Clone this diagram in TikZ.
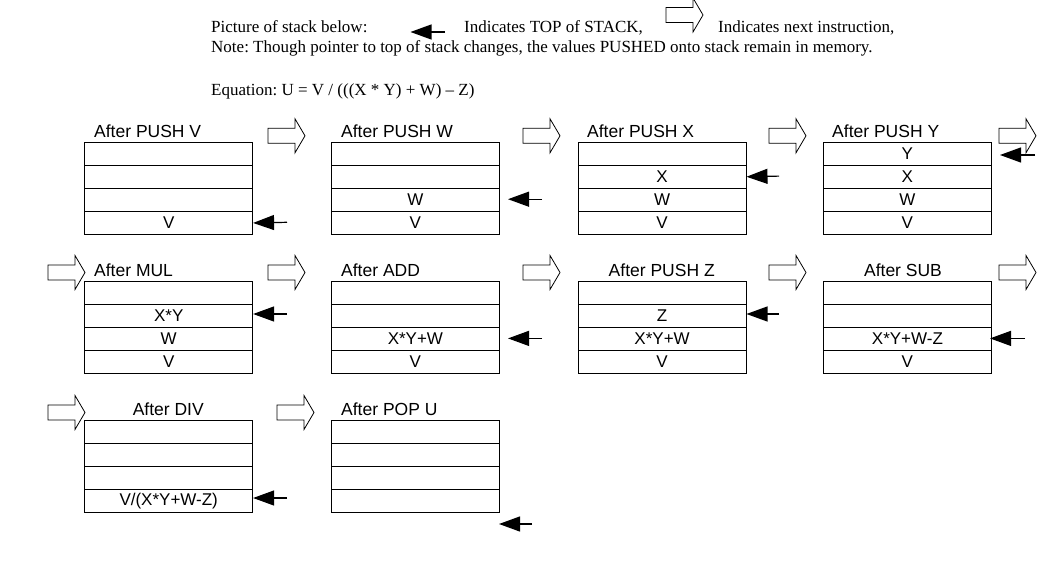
\documentclass[tikz,border=0pt]{standalone}
\usepackage{fontspec}
\setmainfont{Liberation Serif}
\newfontfamily\arialfont{Liberation Sans}
\usetikzlibrary{arrows.meta}
\frenchspacing
\newcommand\mystack[7]{%
  \node[cell] (#1-1) at (#2,#3) {#4};
  \node[cell] (#1-2) at (#2,#3+23.1) {#5};
  \node[cell] (#1-3) at (#2,#3+46.2) {#6};
  \node[cell] (#1-4) at (#2,#3+69.3) {#7};}
\begin{document}
\begin{tikzpicture}[x=1pt,y=-1pt,
  cell/.style={draw,line width=0.8pt,minimum width=168pt,minimum height=23.1pt,inner sep=0pt,anchor=north west,font=\arialfont\fontsize{17}{19}\selectfont},
  ttl/.style={inner sep=0pt,anchor=base west,font=\arialfont\fontsize{17.5}{19}\selectfont},
  hdr/.style={inner sep=0pt,anchor=base west,font=\fontsize{17}{20}\selectfont},
  toparrow/.style={line width=1.2pt,-{Triangle[length=21pt,width=15pt]}},
  blockarrow/.pic={\draw[line width=0.8pt,fill=white] (0,-7.5) -- (27,-7.5) -- (27,-17) -- (37,0) -- (27,17) -- (27,7.5) -- (0,7.5) -- cycle;}]
\useasboundingbox (0,0) rectangle (1048,564);
% header
\node[hdr] (p1) at (211,33) {Picture of stack below:};
\coordinate (lgA) at (445,32);
\coordinate (lgB) at (410.5,32);
\draw[toparrow] (lgA) -- (lgB);
\node[hdr] (p2) at (464,33) {Indicates TOP of STACK,};
\pic (lgblk) at (666,15) {blockarrow};
\node[hdr] (p3) at (718,33) {Indicates next instruction,};
\node[hdr] (p4) at (211,52.5) {Note: Though pointer to top of stack changes, the values PUSHED onto stack remain in memory.};
\node[hdr] (p5) at (211,96) {Equation: U = V / (((X * Y) + W) -- Z)};
% row 1
\mystack{s11}{84.3}{141.7}{}{}{}{V}
\mystack{s12}{331}{141.7}{}{}{W}{V}
\mystack{s13}{577.7}{141.7}{}{X}{W}{V}
\mystack{s14}{823}{141.7}{Y}{X}{W}{V}
\node[ttl] (h11) at (94,137.5) {After PUSH V};
\node[ttl] (h12) at (341,137.5) {After PUSH W};
\node[ttl] (h13) at (587,137.5) {After PUSH X};
\node[ttl] (h14) at (832,137.5) {After PUSH Y};
\pic (b11) at (268,135.8) {blockarrow};
\pic (b12) at (523,135.8) {blockarrow};
\pic (b13) at (769,135.8) {blockarrow};
\pic (b14) at (999,135.8) {blockarrow};
% row 2
\mystack{s21}{84.3}{280.7}{}{X*Y}{W}{V}
\mystack{s22}{331}{280.7}{}{}{X*Y+W}{V}
\mystack{s23}{577.7}{280.7}{}{Z}{X*Y+W}{V}
\mystack{s24}{823}{280.7}{}{}{X*Y+W-Z}{V}
\node[ttl] (h21) at (94,276.7) {After MUL};
\node[ttl] (h22) at (341,276.7) {After ADD};
\node[ttl,anchor=base] (h23) at (661.7,276.7) {After PUSH Z};
\node[ttl,anchor=base] (h24) at (903,276.7) {After SUB};
\pic (b20) at (48,272.5) {blockarrow};
\pic (b21) at (268,272.5) {blockarrow};
\pic (b22) at (523,272.5) {blockarrow};
\pic (b23) at (769,272.5) {blockarrow};
\pic (b24) at (999,272.5) {blockarrow};
% row 3
\mystack{s31}{84.3}{419.7}{}{}{}{V/(X*Y+W-Z)}
\mystack{s32}{331}{419.7}{}{}{}{}
\node[ttl,anchor=base] (h31) at (168.3,415.7) {After DIV};
\node[ttl] (h32) at (341,415.7) {After POP U};
\pic (b30) at (48,412.5) {blockarrow};
\pic (b31) at (277,412.5) {blockarrow};
% top of stack pointers
\coordinate (t11) at (287,222.3);
\draw[toparrow] (t11) -- (s11-4.east);
\coordinate (t12a) at (542,199.2);
\coordinate (t12b) at (508,199.2);
\draw[toparrow] (t12a) -- (t12b);
\coordinate (t13) at (779,176.1);
\draw[toparrow] (t13) -- (s13-2.east);
\coordinate (t14a) at (1035,155);
\coordinate (t14b) at (1000,155);
\draw[toparrow] (t14a) -- (t14b);
\coordinate (t21) at (287,314);
\draw[toparrow] (t21) -- (s21-2.east |- t21);
\coordinate (t22a) at (542,338.4);
\coordinate (t22b) at (508,338.4);
\draw[toparrow] (t22a) -- (t22b);
\coordinate (t23) at (779,314);
\draw[toparrow] (t23) -- (s23-2.east |- t23);
\coordinate (t24a) at (1025,338.4);
\coordinate (t24b) at (990,338.4);
\draw[toparrow] (t24a) -- (t24b);
\coordinate (t31) at (287,498);
\draw[toparrow] (t31) -- (s31-4.east |- t31);
\coordinate (t32a) at (532,524);
\coordinate (t32b) at (499,524);
\draw[toparrow] (t32a) -- (t32b);
\end{tikzpicture}
\end{document}
